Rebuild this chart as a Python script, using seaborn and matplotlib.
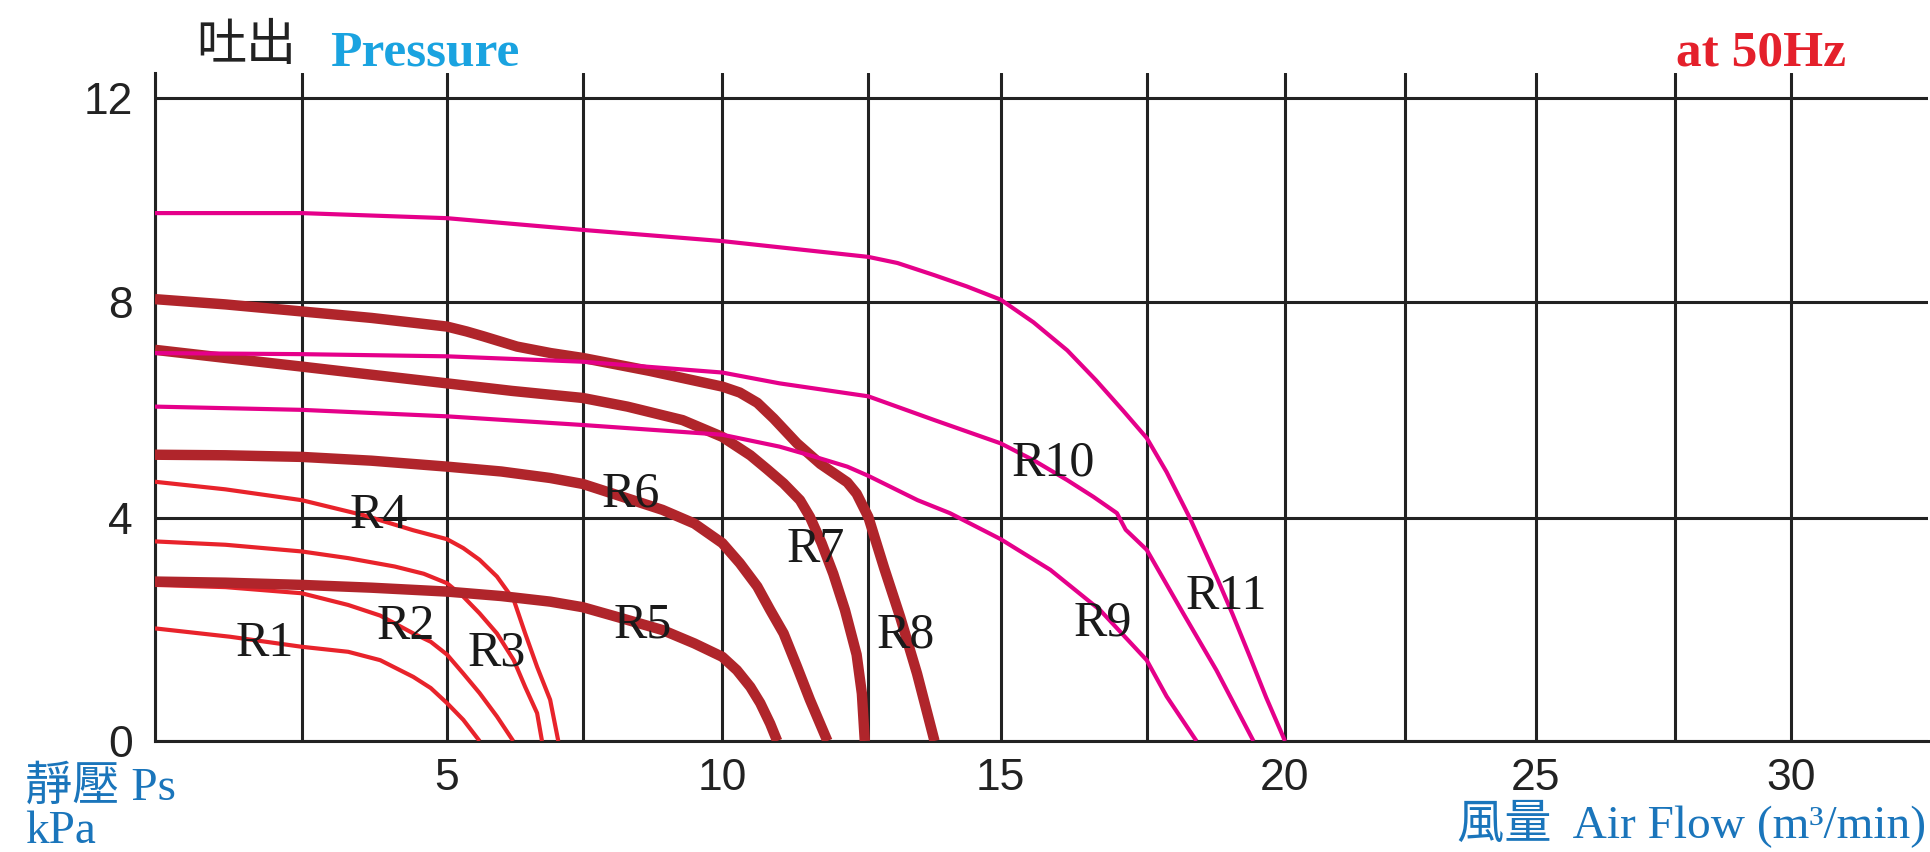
import matplotlib
matplotlib.use("Agg")
import matplotlib.pyplot as plt
import seaborn as sns
import numpy as np

# Blower curves: air flow (m3/min) vs static pressure (kPa)
r1_flow = [0, 1.28, 2.5, 3.3, 3.85, 4.42, 4.72, 5.0, 5.3, 5.6]
r1_ps = [2.02, 1.87, 1.69, 1.6, 1.45, 1.15, 0.95, 0.68, 0.38, 0]

r2_flow = [0, 1.2, 2.5, 3.3, 3.85, 4.42, 4.72, 5.0, 5.3, 5.6, 5.92, 6.22]
r2_ps = [2.8, 2.76, 2.65, 2.44, 2.25, 1.93, 1.78, 1.55, 1.21, 0.86, 0.44, 0]

r3_flow = [0, 1.2, 2.5, 3.3, 4.1, 4.6, 5.0, 5.3, 5.6, 5.92, 6.23, 6.44, 6.66, 6.75]
r3_ps = [3.58, 3.52, 3.4, 3.28, 3.13, 3.0, 2.83, 2.59, 2.29, 1.93, 1.45, 0.97, 0.5, 0]

r4_flow = [0, 1.2, 2.5, 3.57, 4.42, 5.0, 5.3, 5.6, 5.92, 6.23, 6.44, 6.66, 6.9, 7.05]
r4_ps = [4.67, 4.53, 4.33, 4.05, 3.78, 3.62, 3.46, 3.25, 2.95, 2.53, 1.93, 1.33, 0.74, 0]

r5_flow = [0, 1.2, 2.5, 3.7, 5.0, 6.0, 6.9, 7.5, 8.1, 8.93, 9.5, 10.0, 10.25, 10.48, 10.65, 10.82, 10.94]
r5_ps = [2.86, 2.84, 2.8, 2.75, 2.68, 2.6, 2.5, 2.4, 2.23, 1.99, 1.75, 1.51, 1.27, 0.97, 0.68, 0.31, 0]

r6_flow = [0, 1.2, 2.5, 3.7, 5.0, 6.0, 6.9, 7.5, 8.1, 8.93, 9.5, 10.0, 10.3, 10.6, 10.82, 11.05, 11.28, 11.5, 11.8]
r6_ps = [5.17, 5.16, 5.13, 5.06, 4.95, 4.86, 4.74, 4.63, 4.43, 4.15, 3.9, 3.55, 3.19, 2.77, 2.35, 1.93, 1.33, 0.74, 0]

r7_flow = [0, 1.2, 2.5, 3.7, 5.0, 6.2, 7.5, 8.3, 9.29, 10.0, 10.48, 10.77, 11.05, 11.33, 11.5, 11.7, 11.9, 12.1, 12.3, 12.39, 12.44]
r7_ps = [7.11, 6.96, 6.8, 6.65, 6.49, 6.35, 6.22, 6.06, 5.81, 5.5, 5.16, 4.9, 4.64, 4.33, 4.02, 3.55, 3.0, 2.35, 1.55, 0.85, 0]

r8_flow = [0, 1.2, 2.5, 3.7, 5.0, 5.36, 5.67, 6.29, 6.91, 7.5, 8.7, 10.0, 10.3, 10.6, 10.88, 11.28, 11.68, 12.14, 12.3, 12.5, 12.8, 13.1, 13.42, 13.75]
r8_ps = [8.05, 7.95, 7.82, 7.7, 7.54, 7.45, 7.36, 7.17, 7.05, 6.96, 6.72, 6.43, 6.32, 6.13, 5.84, 5.38, 5.0, 4.66, 4.45, 4.02, 3.1, 2.23, 1.21, 0]

r9_flow = [0, 2.5, 5.0, 7.5, 10.0, 10.98, 11.56, 12.14, 12.5, 13.43, 14.04, 15.0, 15.85, 16.7, 17.5, 17.86, 18.4]
r9_ps = [6.06, 6.0, 5.88, 5.72, 5.54, 5.32, 5.14, 4.95, 4.78, 4.33, 4.09, 3.62, 3.07, 2.35, 1.45, 0.8, 0]

r10_flow = [0, 2.5, 5.0, 7.5, 10.0, 10.98, 12.5, 13.75, 15.0, 15.56, 16.14, 16.59, 16.99, 17.14, 17.5, 18.16, 18.76, 19.43]
r10_ps = [7.05, 7.03, 6.99, 6.89, 6.69, 6.49, 6.25, 5.81, 5.38, 5.07, 4.7, 4.39, 4.09, 3.79, 3.43, 2.29, 1.27, 0]

r11_flow = [0, 2.5, 5.0, 7.5, 10.0, 12.5, 13.05, 13.75, 14.36, 15.0, 15.56, 16.14, 16.63, 17.1, 17.5, 17.86, 18.28, 18.76, 19.05, 19.37, 19.66, 20.0]
r11_ps = [9.74, 9.74, 9.64, 9.41, 9.19, 8.88, 8.76, 8.52, 8.3, 8.04, 7.62, 7.1, 6.55, 5.98, 5.48, 4.85, 4.0, 2.95, 2.28, 1.5, 0.78, 0]

curve_names = ["R1", "R2", "R3", "R4", "R5", "R6", "R7", "R8", "R9", "R10", "R11"]
label_flow = [1.87, 4.29, 5.92, 3.83, 8.58, 8.36, 11.6, 13.2, 16.75, 15.9, 18.94]
label_ps = [1.75, 2.05, 1.57, 4.05, 2.08, 4.43, 3.43, 1.9, 2.11, 5.01, 2.59]

x_tick_values = [5, 10, 15, 20, 25, 30]
y_tick_values = [0, 4, 8, 12]

# the printed grid is hand drawn and unevenly spaced, map values through it
grid_x_val = [0, 2.5, 5, 7.5, 10, 12.5, 15, 17.5, 20, 22.5, 25, 27.5, 30, 35]
grid_x_px = [155, 301.7, 447, 582.7, 722.3, 868.3, 1000.7, 1146.7, 1285, 1404.8, 1536, 1674.9, 1791, 2023]
grid_y_val = [0, 4, 8, 12, 14]
grid_y_px = [0, 223, 439.3, 643, 745]

def fwd_x(v):
    return np.interp(v, grid_x_val, grid_x_px)

def inv_x(p):
    return np.interp(p, grid_x_px, grid_x_val)

def fwd_y(v):
    return np.interp(v, grid_y_val, grid_y_px)

def inv_y(p):
    return np.interp(p, grid_y_px, grid_y_val)

sns.set_style("white")
plt.rcParams['font.family'] = ['Liberation Serif', 'Noto Sans CJK TC']

W, H = 1930, 852
fig = plt.figure(figsize=(W / 100, H / 100), dpi=100)
ax = fig.add_axes([155 / W, 111 / H, (1928 - 155) / W, (741 - 73) / H])

ax.set_xscale('function', functions=(fwd_x, inv_x))
ax.set_yscale('function', functions=(fwd_y, inv_y))

thin_red = "#e8232b"
dark_red = "#b0252b"
pink = "#e5008a"

curves = [
    (r1_flow, r1_ps, thin_red, 3.0),
    (r2_flow, r2_ps, thin_red, 3.0),
    (r3_flow, r3_ps, thin_red, 3.0),
    (r4_flow, r4_ps, thin_red, 3.0),
    (r5_flow, r5_ps, dark_red, 7.5),
    (r6_flow, r6_ps, dark_red, 7.5),
    (r7_flow, r7_ps, dark_red, 7.5),
    (r8_flow, r8_ps, dark_red, 7.5),
    (r9_flow, r9_ps, pink, 3.0),
    (r10_flow, r10_ps, pink, 3.0),
    (r11_flow, r11_ps, pink, 3.0),
]
for flow, ps, col, lw in curves:
    sns.lineplot(x=flow, y=ps, ax=ax, color=col, linewidth=lw, sort=False,
                 estimator=None, legend=False, solid_capstyle='butt',
                 solid_joinstyle='round', zorder=3)

for name, lx, ly in zip(curve_names, label_flow, label_ps):
    ax.text(lx, ly, name, fontsize=36, color="#1a1a1a", ha='center', va='center', zorder=4)

ax.set_xlim(0, inv_x(1928))
ax.set_ylim(0, inv_y(741 - 73))

ax.set_xticks(x_tick_values)
ax.set_xticklabels([str(v) for v in x_tick_values], fontfamily='Liberation Sans', fontsize=32)
ax.set_xticks(np.arange(0, 31, 2.5), minor=True)
ax.set_yticks(y_tick_values)
ax.set_yticklabels([str(v) for v in y_tick_values], fontfamily='Liberation Sans', fontsize=32)
ax.tick_params(axis='both', which='both', length=0, colors="#222222")
ax.tick_params(axis='x', pad=12)
ax.tick_params(axis='y', pad=16)

ax.grid(True, axis='x', which='both', color="#222222", linewidth=2.2)
ax.grid(True, axis='y', which='major', color="#222222", linewidth=2.2)
ax.set_axisbelow(True)
for side in ['top', 'right']:
    ax.spines[side].set_visible(False)
for side in ['left', 'bottom']:
    ax.spines[side].set_color("#222222")
    ax.spines[side].set_linewidth(2.2)

# headings around the frame
fig.text(246 / W, 1 - 46 / H, "吐出", fontsize=36, color="#222222",
         ha='center', va='center', family=['Noto Sans CJK TC'])
fig.text(330 / W, 1 - 66 / H, "Pressure", fontsize=37, fontweight='bold',
         color="#1aa3e0", ha='left', va='baseline')
fig.text(1846 / W, 1 - 66 / H, "at 50Hz", fontsize=37, fontweight='bold',
         color="#e4202b", ha='right', va='baseline')
fig.text(25 / W, 1 - 800 / H, "靜壓 Ps", fontsize=34, color="#1a75bb",
         ha='left', va='baseline')
fig.text(25 / W, 1 - 843 / H, "kPa", fontsize=34, color="#1a75bb",
         ha='left', va='baseline')
fig.text(1926 / W, 1 - 838 / H, "風量  Air Flow (m³/min)", fontsize=34, color="#1a75bb",
         ha='right', va='baseline')

fig.savefig("out.png", dpi=100, facecolor="white")
